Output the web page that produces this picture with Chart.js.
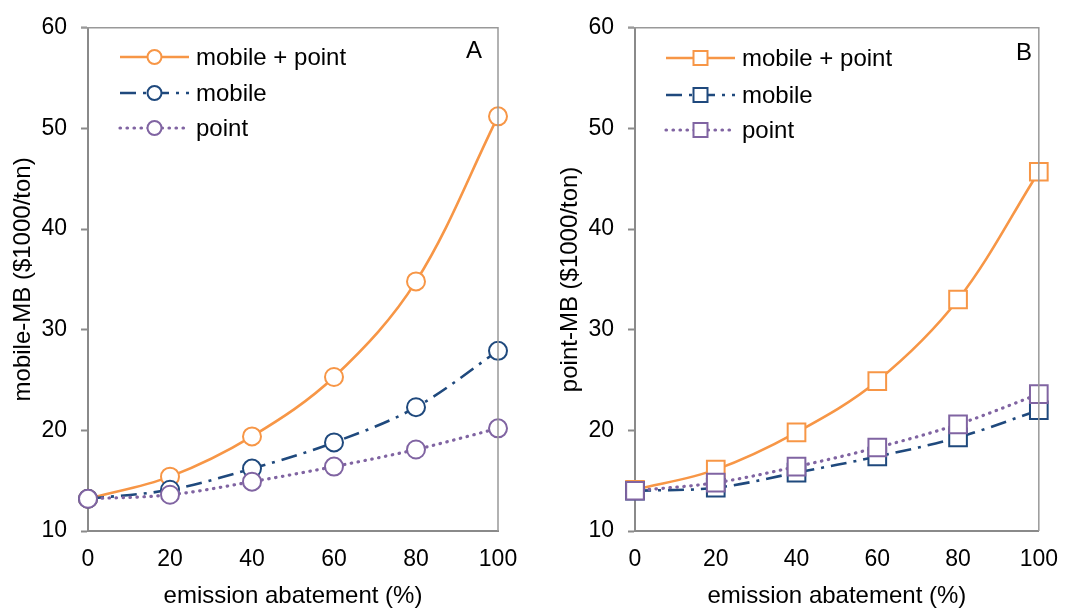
<!DOCTYPE html>
<html>
<head>
<meta charset="utf-8">
<script src="https://cdn.jsdelivr.net/npm/chart.js@4.4.1/dist/chart.umd.min.js"></script>
<style>
  html, body { margin: 0; padding: 0; background: #fff; }
  .panel { position: absolute; top: 0; height: 608px; }
  #panelA { left: 0; width: 536px; }
  #panelB { left: 536px; width: 537px; }
</style>
</head>
<body>
<div class="panel" id="panelA"><canvas id="chartA" width="536" height="608"></canvas></div>
<div class="panel" id="panelB"><canvas id="chartB" width="537" height="608"></canvas></div>
<script>
// emission abatement (%) on the x axis
const abatement = [0, 20, 40, 60, 80, 100];
const seriesNames = ['mobile + point', 'mobile', 'point'];

// panel A: mobile-MB ($1000/ton)
const mobileMB_both = [13.2, 15.4, 19.4, 25.3, 34.8, 51.2];
const mobileMB_mobile = [13.2, 14.1, 16.2, 18.8, 22.3, 27.9];
const mobileMB_point = [13.2, 13.6, 14.9, 16.4, 18.1, 20.2];

// panel B: point-MB ($1000/ton)
const pointMB_both = [14.1, 16.1, 19.8, 24.9, 33.0, 45.7];
const pointMB_mobile = [14.0, 14.3, 15.8, 17.4, 19.3, 22.0];
const pointMB_point = [14.0, 14.8, 16.4, 18.3, 20.6, 23.6];

const yTicks = [10, 20, 30, 40, 50, 60];
const xTicks = [0, 20, 40, 60, 80, 100];

const ORANGE = '#F79646';
const BLUE = '#1F497D';
const PURPLE = '#8064A2';
const AXIS = '#8a8a8a';
const FONT = "'Liberation Sans', Arial, sans-serif";

const styles = [
  { color: ORANGE, dash: [], width: 2.6, cap: 'butt', order: 3 },
  { color: BLUE, dash: [16, 7, 3, 7], width: 2.6, cap: 'butt', order: 2 },
  { color: PURPLE, dash: [0.5, 6.5], width: 3.2, cap: 'round', order: 1 }
];

function toPoints(vals) {
  return abatement.map((x, i) => ({ x: x, y: vals[i] }));
}

function makeDatasets(seriesVals, shape) {
  return seriesVals.map((vals, i) => ({
    label: seriesNames[i],
    data: toPoints(vals),
    borderColor: styles[i].color,
    borderWidth: styles[i].width,
    borderDash: styles[i].dash,
    borderCapStyle: styles[i].cap,
    tension: 0.35,
    pointStyle: shape,
    pointRadius: shape === 'rect' ? 12.5 : 9,
    pointBorderWidth: 2,
    pointBorderColor: styles[i].color,
    pointBackgroundColor: '#fff',
    order: styles[i].order,
    clip: false
  }));
}

// frame on top + right, in-plot legend and panel letter
const framePlugin = {
  id: 'frameLegend',
  afterDraw(chart, args, opts) {
    const { ctx, chartArea: a } = chart;
    ctx.save();
    ctx.strokeStyle = '#999';
    ctx.lineWidth = 1.5;
    ctx.beginPath();
    ctx.moveTo(opts.frameLeft, a.top);
    ctx.lineTo(a.right, a.top);
    ctx.lineTo(a.right, a.bottom);
    ctx.stroke();

    // panel letter
    ctx.fillStyle = '#000';
    ctx.font = '24px ' + FONT;
    ctx.textAlign = 'center';
    ctx.textBaseline = 'middle';
    ctx.fillText(opts.letter, opts.letterX, opts.letterY);

    // legend
    chart.data.datasets.forEach((ds, i) => {
      const y = opts.legendY[i];
      const x0 = opts.legendX, x1 = opts.legendX + 69, xm = (x0 + x1) / 2;
      ctx.save();
      ctx.strokeStyle = ds.borderColor;
      ctx.lineWidth = ds.borderWidth;
      ctx.lineCap = ds.borderCapStyle;
      ctx.setLineDash(ds.borderDash);
      ctx.beginPath();
      ctx.moveTo(x0, y);
      ctx.lineTo(x1, y);
      ctx.stroke();
      ctx.setLineDash([]);
      ctx.fillStyle = '#fff';
      ctx.lineWidth = 2;
      ctx.beginPath();
      if (ds.pointStyle === 'rect') {
        ctx.rect(xm - 7, y - 7, 14, 14);
      } else {
        ctx.arc(xm, y, 7, 0, Math.PI * 2);
      }
      ctx.fill();
      ctx.stroke();
      ctx.restore();
      ctx.fillStyle = '#000';
      ctx.font = '24px ' + FONT;
      ctx.textAlign = 'left';
      ctx.textBaseline = 'middle';
      ctx.fillText(ds.label, x1 + 7, y + 1);
    });
    ctx.restore();
  }
};

function makeChart(id, datasets, cfg) {
  return new Chart(document.getElementById(id), {
    type: 'line',
    data: { datasets: datasets },
    options: {
      responsive: false,
      animation: false,
      layout: { padding: { left: 0, right: cfg.padRight, top: 25, bottom: 0 } },
      plugins: {
        legend: { display: false },
        tooltip: { enabled: false },
        frameLegend: cfg.frame
      },
      scales: {
        x: {
          type: 'linear',
          min: 0, max: 100,
          afterBuildTicks: s => { s.ticks = xTicks.map(v => ({ value: v })); },
          afterFit: s => { s.height = 77; },
          grid: { display: false, drawTicks: false },
          border: { display: true, color: AXIS, width: 2 },
          ticks: { color: '#000', font: { family: FONT, size: 23 }, padding: 15 },
          title: {
            display: true, text: 'emission abatement (%)', color: '#000',
            font: { family: FONT, size: 24, lineHeight: 1 }, padding: { top: 0, bottom: 0 }
          }
        },
        y: {
          min: 10, max: 60,
          afterBuildTicks: s => { s.ticks = yTicks.map(v => ({ value: v })); },
          afterFit: s => { s.width = cfg.yWidth; },
          grid: { drawOnChartArea: false, drawTicks: true, tickLength: 7, color: AXIS, tickWidth: 2 },
          border: { display: true, color: AXIS, width: 2 },
          ticks: { color: '#000', font: { family: FONT, size: 23 }, padding: 14 },
          title: {
            display: true, text: cfg.yTitle, color: '#000',
            font: { family: FONT, size: 24 }, padding: { top: cfg.titlePad, bottom: 0 }
          }
        }
      }
    },
    plugins: [framePlugin]
  });
}

makeChart('chartA', makeDatasets([mobileMB_both, mobileMB_mobile, mobileMB_point], 'circle'), {
  padRight: 38, yWidth: 88, yTitle: 'mobile-MB ($1000/ton)', titlePad: 9,
  frame: { frameLeft: 81, letter: 'A', letterX: 474, letterY: 51, legendX: 120, legendY: [57, 93, 128] }
});

makeChart('chartB', makeDatasets([pointMB_both, pointMB_mobile, pointMB_point], 'rect'), {
  padRight: 30, yWidth: 99, yTitle: 'point-MB ($1000/ton)', titlePad: 20,
  frame: { frameLeft: 92, letter: 'B', letterX: 488, letterY: 53, legendX: 130, legendY: [58, 95, 130] }
});
</script>
</body>
</html>
